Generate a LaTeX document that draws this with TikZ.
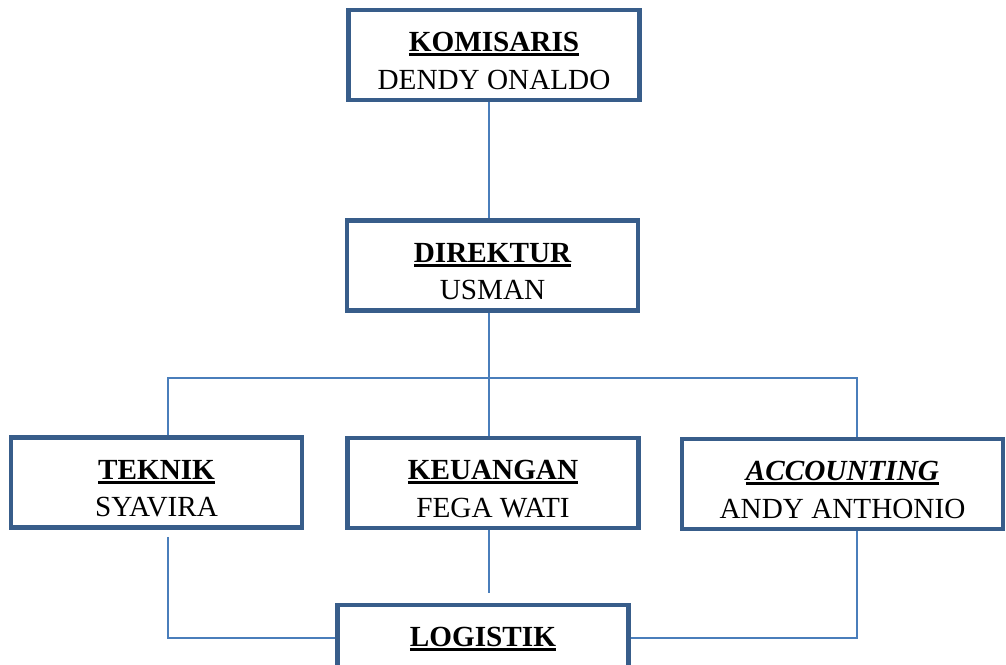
\documentclass[tikz,border=0pt]{standalone}
\usepackage{fontspec}
\setmainfont{Liberation Serif}
\usetikzlibrary{calc}
\definecolor{boxblue}{RGB}{56,93,138}
\definecolor{lineblue}{RGB}{74,126,187}
\newcommand\ulbox[1]{\rule{0pt}{31pt}\setbox0\hbox{#1}\rlap{\rule[-4.5pt]{\wd0}{2.8pt}}\box0}
\begin{document}
\begin{tikzpicture}[x=1pt,y=-1pt,
  orgbox/.style={draw=boxblue, line width=4.5pt, fill=white, minimum width=291pt,
    minimum height=90pt, inner sep=0pt, align=center,
    font=\fontsize{29.2}{37.5}\selectfont, text=black},
  conn/.style={draw=lineblue, line width=2pt}]
\useasboundingbox (0,0) rectangle (1006,664);
\node[orgbox] (kom) at (494,55) {\ulbox{\bfseries KOMISARIS}\\DENDY ONALDO};
\node[orgbox] (dir) at (492.5,265.5) {\ulbox{\bfseries DIREKTUR}\\USMAN};
\node[orgbox] (tek) at (156.5,482.5) {\ulbox{\bfseries TEKNIK}\\SYAVIRA};
\node[orgbox] (keu) at (493,483) {\ulbox{\bfseries KEUANGAN}\\FEGA WATI};
\node[orgbox, minimum width=321pt] (acc) at (842.5,484) {\ulbox{\bfseries\itshape ACCOUNTING}\\ANDY ANTHONIO};
\node[orgbox] (log) at (483,650) {\ulbox{\bfseries LOGISTIK}\\\phantom{X}};
\coordinate (bus) at (489,378);
\coordinate (tx) at (168,378);
\coordinate (ax) at (857,378);
\coordinate (lb) at (0,638);
\draw[conn] (kom.south -| bus) -- (dir.north -| bus);
\draw[conn] (dir.south -| bus) -- (bus);
\draw[conn] (tek.north -| tx) -- (tx) -- (ax) -- (acc.north -| ax);
\draw[conn] (bus) -- (keu.north -| bus);
\draw[conn] ([yshift=-7pt]tek.south -| tx) -- (tx |- lb) -- (log.west |- lb);
\draw[conn] (keu.south -| bus) -- ([yshift=10pt]log.north -| bus);
\draw[conn] (acc.south -| ax) -- (ax |- lb) -- (log.east |- lb);
\end{tikzpicture}
\end{document}
